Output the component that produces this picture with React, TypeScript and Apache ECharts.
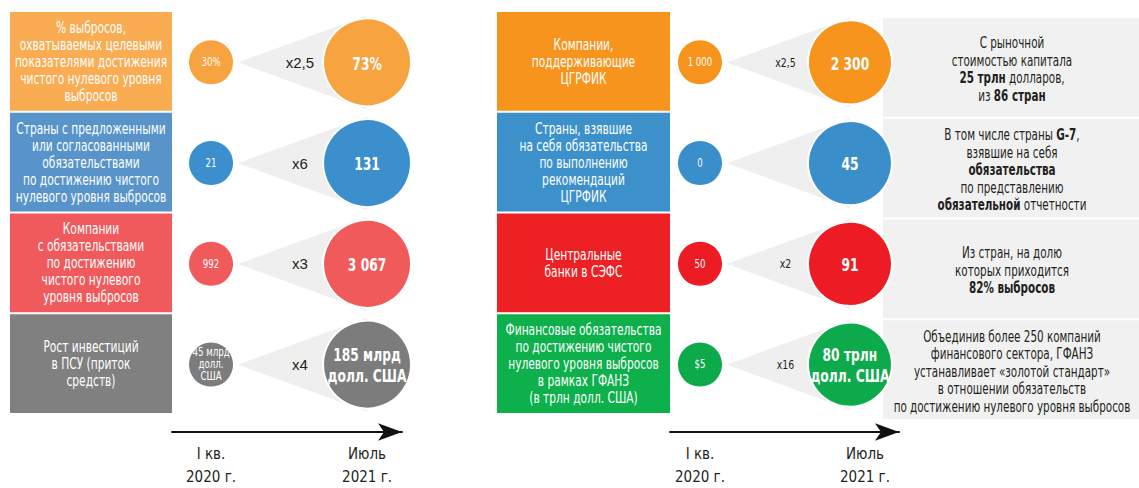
import React, { useEffect, useRef } from "react";
import * as echarts from "echarts";

const FONT = "'DejaVu Sans Condensed', 'Liberation Sans Narrow', 'Arial Narrow', sans-serif";
const FONT_PLAIN = "'Liberation Sans', Arial, sans-serif";

// ---- data ----
const timeLabels = ["I кв.\n2020 г.", "Июль\n2021 г."];

const leftCategories = [
  "% выбросов,\nохватываемых целевыми\nпоказателями достижения\nчистого нулевого уровня\nвыбросов",
  "Страны с предложенными\nили согласованными\nобязательствами\nпо достижению чистого\nнулевого уровня выбросов",
  "Компании\nс обязательствами\nпо достижению\nчистого нулевого\nуровня выбросов",
  "Рост инвестиций\nв ПСУ (приток\nсредств)",
];
const leftStart = ["30%", "21", "992", "45 млрд\nдолл.\nСША"];
const leftEnd = ["73%", "131", "3 067", "185 млрд\nдолл. США"];
const leftMultipliers = ["x2,5", "x6", "x3", "x4"];

const rightCategories = [
  "Компании,\nподдерживающие\nЦГРФИК",
  "Страны, взявшие\nна себя обязательства\nпо выполнению\nрекомендаций\nЦГРФИК",
  "Центральные\nбанки в СЭФС",
  "Финансовые обязательства\nпо достижению чистого\nнулевого уровня выбросов\nв рамках ГФАНЗ\n(в трлн долл. США)",
];
const rightStart = ["1 000", "0", "50", "$5"];
const rightEnd = ["2 300", "45", "91", "80 трлн\nдолл. США"];
const rightMultipliers = ["x2,5", "", "x2", "x16"];
const rightNotes = [
  "С рыночной\nстоимостью капитала\n{b|25 трлн} долларов,\nиз {b|86 стран}",
  "В том числе страны {b|G-7},\nвзявшие на себя\n{b|обязательства}\nпо представлению\n{b|обязательной} отчетности",
  "Из стран, на долю\nкоторых приходится\n{b|82% выбросов}",
  "Объединив более 250 компаний\nфинансового сектора, ГФАНЗ\nустанавливает «золотой стандарт»\nв отношении обязательств\nпо достижению нулевого уровня выбросов",
];

// ---- styles ----
const leftBoxColors = ["#f9ac52", "#5894ca", "#f15a5c", "#808080"];
const leftCircleColors = ["#f7a340", "#3b8fcc", "#f15a5b", "#7c7c7c"];
const rightBoxColors = ["#f7941d", "#3d91cb", "#ed2024", "#0db04b"];
const rightCircleColors = ["#f7941d", "#3a8fcb", "#ed1c24", "#0caa4a"];
const SQUEEZE = 0.79;

function panelSeries(
  gi: number,
  cats: string[],
  boxColors: string[],
  circleColors: string[],
  startVals: string[],
  endVals: string[],
  mults: string[],
  boxW: number,
  smallSize: number,
  bigSize: number,
  multStyle: any,
  multScale: number
) {
  const rows = cats.map((_, i) => [0, i]);
  const boxes = {
    type: "custom",
    xAxisIndex: gi,
    yAxisIndex: gi,
    clip: false,
    z: 1,
    data: rows,
    renderItem: (params: any, api: any) => {
      const i = api.value(1);
      const c = api.coord([0, i]);
      const h = api.size([0, 1])[1];
      const cs = params.coordSys;
      return {
        type: "group",
        children: [
          {
            type: "rect",
            shape: { x: cs.x - boxW, y: c[1] - h / 2, width: boxW, height: h - 2 },
            style: { fill: boxColors[i] },
          },
          {
            type: "text",
            x: cs.x - boxW / 2,
            y: c[1] - 1,
            scaleX: SQUEEZE,
            style: {
              text: cats[i],
              fill: "#ffffff",
              fontSize: 15,
              fontFamily: FONT,
              lineHeight: 17,
              align: "center",
              verticalAlign: "middle",
            },
          },
        ],
      };
    },
  };
  const cones = {
    type: "custom",
    xAxisIndex: gi,
    yAxisIndex: gi,
    clip: false,
    z: 1,
    data: rows,
    renderItem: (params: any, api: any) => {
      const i = api.value(1);
      const s = api.coord([0, i]);
      const b = api.coord([1, i]);
      const spread = bigSize / 2 + 3;
      return {
        type: "group",
        children: [
          {
            type: "polygon",
            shape: {
              points: [
                [s[0] + smallSize / 2 + 5, s[1]],
                [b[0], b[1] - spread],
                [b[0], b[1] + spread],
              ],
            },
            style: { fill: "#efefef" },
          },
          {
            type: "text",
            x: s[0] + (b[0] - s[0]) * 0.57,
            y: s[1],
            scaleX: multScale,
            style: Object.assign(
              { text: mults[i], fill: "#231f20", align: "center", verticalAlign: "middle" },
              multStyle
            ),
          },
        ],
      };
    },
  };
  const small = {
    type: "scatter",
    xAxisIndex: gi,
    yAxisIndex: gi,
    clip: false,
    z: 3,
    symbolSize: smallSize,
    data: startVals.map((v, i) => ({
      value: [0, i],
      name: v,
      itemStyle: { color: circleColors[i] },
    })),
    itemStyle: { opacity: 1 },
    label: { show: false },
  };
  const big = {
    type: "scatter",
    xAxisIndex: gi,
    yAxisIndex: gi,
    clip: false,
    z: 3,
    symbolSize: bigSize,
    data: endVals.map((v, i) => ({
      value: [1, i],
      name: v,
      itemStyle: { color: circleColors[i] },
    })),
    itemStyle: { borderColor: "#ffffff", borderWidth: 2, opacity: 1 },
    label: { show: false },
  };
  const labels = {
    type: "custom",
    xAxisIndex: gi,
    yAxisIndex: gi,
    clip: false,
    silent: true,
    z: 10,
    data: rows,
    renderItem: (params: any, api: any) => {
      const i = api.value(1);
      const s = api.coord([0, i]);
      const b = api.coord([1, i]);
      const multiStart = startVals[i].includes("\n");
      return {
        type: "group",
        children: [
          {
            type: "text",
            x: s[0],
            y: s[1],
            scaleX: 0.8,
            style: {
              text: startVals[i],
              fill: "#ffffff",
              fontSize: 12,
              lineHeight: multiStart ? 12 : 14,
              fontFamily: FONT,
              align: "center",
              verticalAlign: "middle",
            },
          },
          {
            type: "text",
            x: b[0],
            y: b[1] + 1,
            scaleX: 0.76,
            style: {
              text: endVals[i],
              fill: "#ffffff",
              fontSize: 18,
              fontWeight: "bold",
              lineHeight: 21,
              fontFamily: FONT,
              align: "center",
              verticalAlign: "middle",
            },
          },
        ],
      };
    },
  };
  return { boxes, cones, small, big, labels };
}

const left = panelSeries(
  0, leftCategories, leftBoxColors, leftCircleColors, leftStart, leftEnd, leftMultipliers,
  162, 44, 88, { fontSize: 15, fontFamily: FONT_PLAIN }, 1
);
const right = panelSeries(
  1, rightCategories, rightBoxColors, rightCircleColors, rightStart, rightEnd, rightMultipliers,
  173, 44, 84, { fontSize: 13, fontFamily: FONT }, 0.8
);

const notes = {
  type: "custom",
  xAxisIndex: 1,
  yAxisIndex: 1,
  clip: false,
  z: 1,
  data: rightNotes.map((_, i) => [1, i]),
  renderItem: (params: any, api: any) => {
    const i = api.value(1);
    const c = api.coord([1, i]);
    const h = api.size([0, 1])[1];
    const x = c[0] + 33;
    const w = api.getWidth() - x;
    return {
      type: "group",
      children: [
        {
          type: "rect",
          shape: { x, y: c[1] - h / 2 + 6, width: w, height: h - 2 },
          style: { fill: "#f1f1f1" },
        },
        {
          type: "text",
          x: x + w / 2 + 1,
          y: c[1] + 7,
          scaleX: 0.77,
          style: {
            text: rightNotes[i],
            fill: "#231f20",
            fontSize: 15,
            fontFamily: FONT,
            lineHeight: 17.5,
            align: "center",
            verticalAlign: "middle",
            rich: {
              b: { fontWeight: "bold", fontSize: 15, fontFamily: FONT, lineHeight: 17.5, fill: "#231f20" },
            },
          },
        },
      ],
    };
  },
};

function timeAxis(gi: number, min: number, max: number, labelAt: number[]) {
  return {
    gridIndex: gi,
    type: "value",
    min,
    max,
    offset: 17,
    axisLine: {
      show: true,
      symbol: ["none", "arrow"],
      symbolSize: [13, 24],
      lineStyle: { color: "#111111", width: 2 },
    },
    axisTick: { show: false },
    splitLine: { show: false },
    axisLabel: {
      customValues: labelAt,
      formatter: (v: number) => (v === 0 ? timeLabels[0] : timeLabels[1]),
      fontSize: 15,
      lineHeight: 23,
      color: "#231f20",
      fontFamily: FONT,
      margin: 10,
    },
  };
}

const option: any = {
  animation: false,
  backgroundColor: "#ffffff",
  grid: [
    { left: 172, top: 12, width: 230, height: 410 },
    { left: 670, top: 12, width: 229, height: 410 },
  ],
  xAxis: [timeAxis(0, -0.25, 1.224, [0, 1]), timeAxis(1, -0.2, 1.327, [0, 1.1])],
  yAxis: [
    { gridIndex: 0, type: "category", inverse: true, data: leftCategories, show: false },
    { gridIndex: 1, type: "category", inverse: true, data: rightCategories, show: false },
  ],
  series: [
    left.boxes,
    left.cones,
    left.small,
    left.big,
    left.labels,
    notes,
    right.boxes,
    right.cones,
    right.small,
    right.big,
    right.labels,
  ],
};

export default function App() {
  const ref = useRef<HTMLDivElement>(null);
  useEffect(() => {
    const chart = echarts.init(ref.current!, null, { renderer: "svg" });
    chart.setOption(option);
    return () => chart.dispose();
  }, []);
  return (
    <div
      ref={ref}
      style={{ position: "fixed", left: 0, top: 0, width: 1139, height: 488, background: "#ffffff" }}
    />
  );
}
